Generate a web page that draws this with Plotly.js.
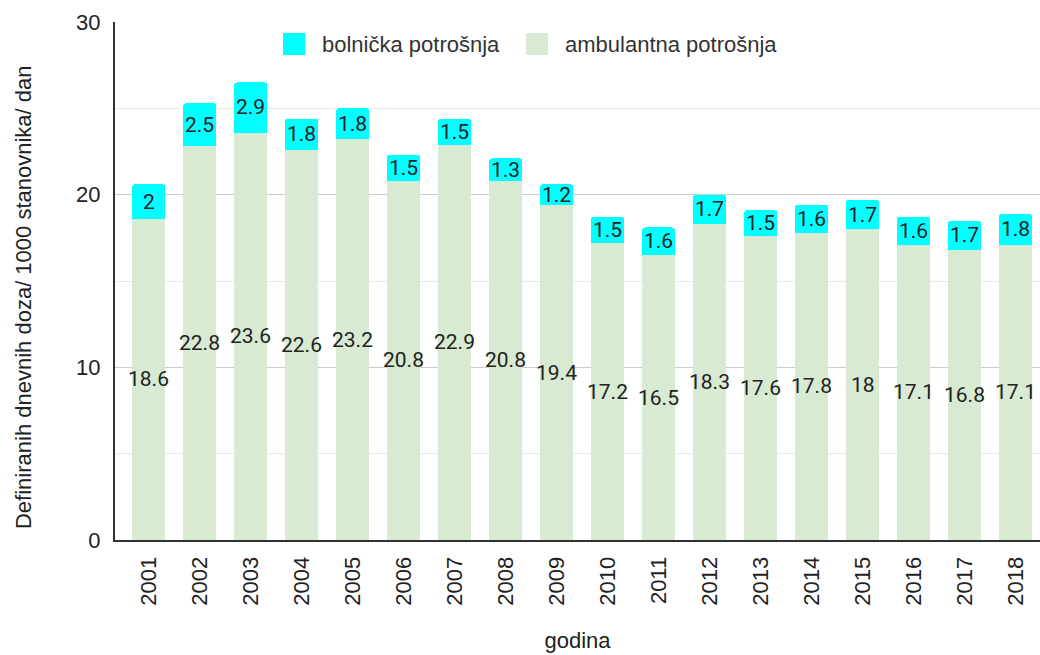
<!DOCTYPE html>
<html>
<head>
<meta charset="utf-8">
<script src="https://cdn.plot.ly/plotly-3.0.1.min.js"></script>
<style>html,body{margin:0;padding:0;background:#fff}#chart{width:1040px;height:655px}</style>
</head>
<body>
<div id="chart"></div>
<script>
const years = ['2001','2002','2003','2004','2005','2006','2007','2008','2009','2010','2011','2012','2013','2014','2015','2016','2017','2018'];
const ambulantna = [18.6,22.8,23.6,22.6,23.2,20.8,22.9,20.8,19.4,17.2,16.5,18.3,17.6,17.8,18,17.1,16.8,17.1];
const bolnicka = [2,2.5,2.9,1.8,1.8,1.5,1.5,1.3,1.2,1.5,1.6,1.7,1.5,1.6,1.7,1.6,1.7,1.8];
const nameAmb = 'ambulantna potrošnja';
const nameBol = 'bolnička potrošnja';
const yTitle = 'Definiranih dnevnih doza/ 1000 stanovnika/ dan';
const xTitle = 'godina';

const colAmb = '#d9ead3';
const colBol = '#00ffff';
const axisFont = 'Arial, "Liberation Sans", sans-serif';
const labelFont = 'Roboto, Arial, sans-serif';

const traces = [
  {type:'bar', name:nameAmb, x:years, y:ambulantna, marker:{color:colAmb}, textposition:'none', hoverinfo:'none', showlegend:false},
  {type:'bar', name:nameBol, x:years, y:bolnicka, marker:{color:colBol}, textposition:'none', hoverinfo:'none', showlegend:false}
];

const annotations = [];
years.forEach((yr, i) => {
  annotations.push({x:i, y:ambulantna[i]/2, xref:'x', yref:'y', text:String(ambulantna[i]), showarrow:false,
    font:{family:labelFont, size:21, color:'#222', shadow:`0 0 3px ${colAmb}`}});
  annotations.push({x:i, y:ambulantna[i]+bolnicka[i]/2, xref:'x', yref:'y', text:String(bolnicka[i]), showarrow:false,
    font:{family:labelFont, size:21, color:'#222', shadow:`0 0 3px ${colBol}`}});
});

// custom legend (text as real text)
const legendItems = [
  {name:nameBol, color:colBol, sx0:0.1816, sx1:0.2054, tx:0.2216},
  {name:nameAmb, color:colAmb, sx0:0.4443, sx1:0.4681, tx:0.4843}
];
const shapes = [];
legendItems.forEach(it => {
  shapes.push({type:'rect', xref:'paper', yref:'paper', x0:it.sx0, x1:it.sx1, y0:0.9363, y1:0.9788,
    fillcolor:it.color, line:{width:0}});
  annotations.push({xref:'paper', yref:'paper', x:it.tx, y:0.9575, xanchor:'left', yanchor:'middle',
    text:it.name, showarrow:false, font:{family:axisFont, size:22, color:'#333'}});
});

// y-axis title
annotations.push({xref:'paper', yref:'paper', x:-0.0995, y:0.469, xanchor:'center', yanchor:'middle',
  textangle:-90, text:yTitle, showarrow:false, font:{family:axisFont, size:22, color:'#222'}});

const layout = {
  width:1040, height:655,
  margin:{l:115, r:0, t:22, b:115},
  barmode:'stack', bargap:0.355, barcornerradius:3,
  font:{family:axisFont, size:22, color:'#222'},
  paper_bgcolor:'#fff', plot_bgcolor:'#fff',
  showlegend:false,
  annotations, shapes,
  xaxis:{type:'category', range:[-0.66,17.48], tickangle:-90, showline:true, linecolor:'#333', linewidth:2,
         ticks:'', showgrid:false, ticklabelstandoff:6, tickfont:{family:axisFont, size:22, color:'#222'},
         title:{text:xTitle, font:{family:axisFont, size:22, color:'#222'}, standoff:28}},
  yaxis:{range:[0,30], dtick:10, showline:true, linecolor:'#333', linewidth:2, ticks:'',
         gridcolor:'#cccccc', gridwidth:1, zeroline:false, ticklabelstandoff:8,
         tickfont:{family:axisFont, size:22, color:'#222'},
         minor:{dtick:5, showgrid:true, gridcolor:'#e8e8e8', gridwidth:1}}
};
Plotly.newPlot('chart', traces, layout, {displayModeBar:false, staticPlot:true});
</script>
</body>
</html>
